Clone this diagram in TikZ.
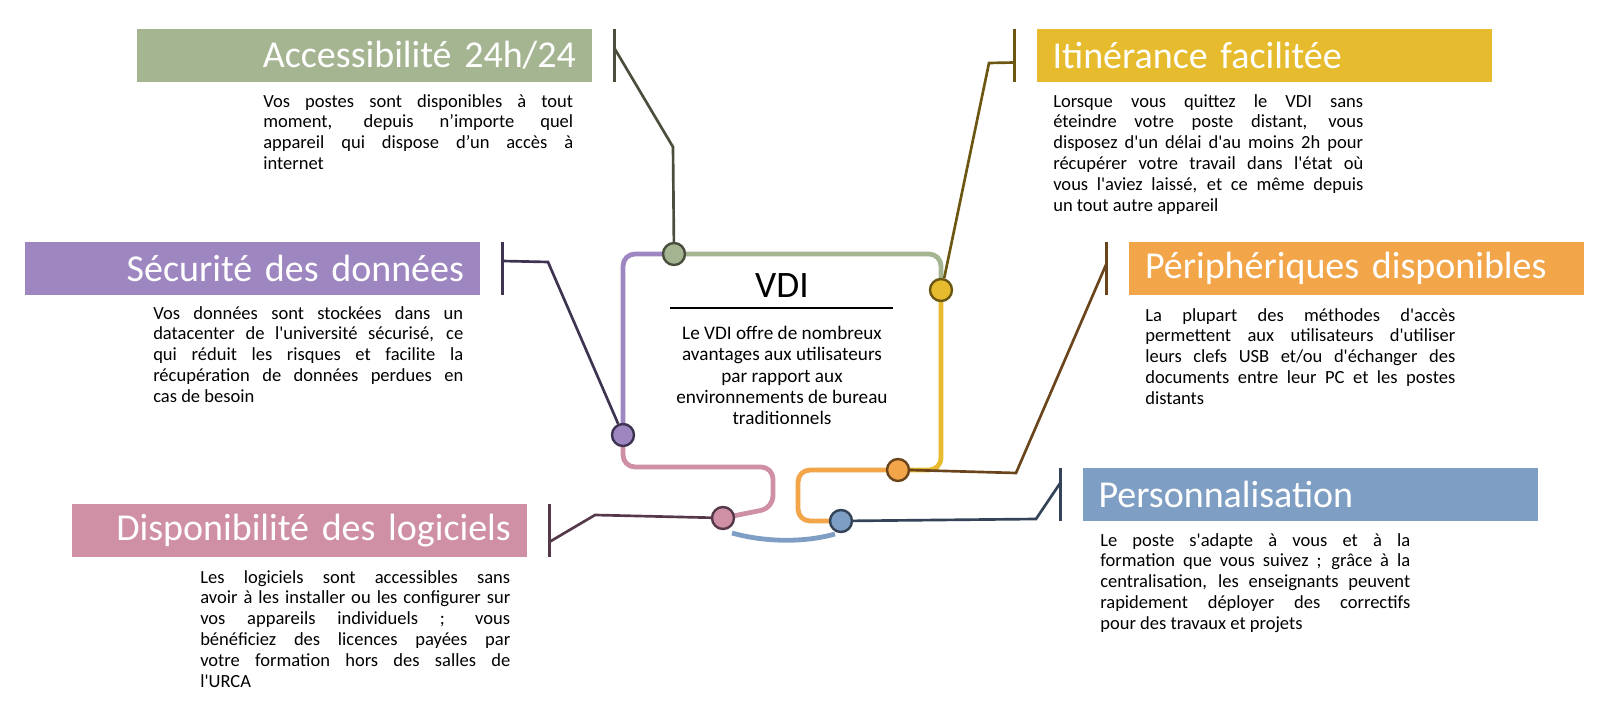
\documentclass[tikz,border=0pt]{standalone}
\usepackage{fontspec}
\setmainfont{Carlito}
\newfontfamily\headfont{Carlito}[WordSpace=0.85]
\usetikzlibrary{calc,backgrounds}
\definecolor{accgreen}{HTML}{A5B592}
\definecolor{itigold}{HTML}{E6BC2E}
\definecolor{secpurple}{HTML}{9E86C0}
\definecolor{perorange}{HTML}{F2A549}
\definecolor{dispink}{HTML}{CF90A5}
\definecolor{persblue}{HTML}{7F9EC4}
\definecolor{accdark}{HTML}{4A4E3C}
\definecolor{itidark}{HTML}{6B5612}
\definecolor{secdark}{HTML}{3E3452}
\definecolor{perdark}{HTML}{6A441A}
\definecolor{disdark}{HTML}{55394A}
\definecolor{persdark}{HTML}{344358}
\newcommand{\ap}{\textquotesingle}
\tikzset{
  headbox/.style={rectangle, inner xsep=12pt, inner ysep=0pt,
    minimum height=39.75pt, text width=317.25pt, text=white,
    font=\headfont\fontsize{28.5}{34}\selectfont},
  desc/.style={inner sep=0pt, text width=232.5pt, align=justify,
    anchor=north west, font=\fontsize{13.9}{15.6}\selectfont},
  dot/.style={circle, line width=1.8pt, minimum size=16.5pt, inner sep=0pt},
  loopline/.style={line width=3.6pt, rounded corners=9pt},
  link/.style={line width=2pt}
}

\begin{document}
\begin{tikzpicture}[x=0.75pt,y=-0.75pt]
\useasboundingbox (0,0) rectangle (1600,716);

% title boxes
\node[headbox, fill=accgreen, align=right] (hAcc) at (364.5,55.5) {Accessibilité 24h/24};
\node[headbox, fill=itigold, align=left] (hIti) at (1264,55.5) {Itinérance facilitée};
\node[headbox, fill=secpurple, align=right] (hSec) at (252.5,268.5) {Sécurité des données};
\node[headbox, fill=perorange, align=left] (hPer) at (1356.5,268.5) {Périphériques disponibles};
\node[headbox, fill=dispink, align=right] (hDis) at (299.5,530.5) {Disponibilité des logiciels};
\node[headbox, fill=persblue, align=left] (hPers) at (1310,494.5) {Personnalisation};

% descriptions
\node[desc] (dAcc) at (263,94)
  {Vos postes sont disponibles à tout\linebreak
   moment, depuis n’importe quel\linebreak
   appareil qui dispose d’un accès à\linebreak
   internet};
\node[desc] (dIti) at (1053,94)
  {Lorsque vous quittez le VDI sans\linebreak
   éteindre votre poste distant, vous\linebreak
   disposez d\ap un délai d\ap au moins 2h pour\linebreak
   récupérer votre travail dans l\ap état où\linebreak
   vous l\ap aviez laissé, et ce même depuis\linebreak
   un tout autre appareil};
\node[desc] (dSec) at (153,306)
  {Vos données sont stockées dans un\linebreak
   datacenter de l\ap université sécurisé, ce\linebreak
   qui réduit les risques et facilite la\linebreak
   récupération de données perdues en\linebreak
   cas de besoin};
\node[desc] (dPer) at (1145,308)
  {La plupart des méthodes d\ap accès\linebreak
   permettent aux utilisateurs d\ap utiliser\linebreak
   leurs clefs USB et/ou d\ap échanger des\linebreak
   documents entre leur PC et les postes\linebreak
   distants};
\node[desc] (dDis) at (200,570)
  {Les logiciels sont accessibles sans\linebreak
   avoir à les installer ou les configurer sur\linebreak
   vos appareils individuels ; vous\linebreak
   bénéficiez des licences payées par\linebreak
   votre formation hors des salles de\linebreak
   l\ap URCA};
\node[desc] (dPers) at (1100,533)
  {Le poste s\ap adapte à vous et à la\linebreak
   formation que vous suivez ; grâce à la\linebreak
   centralisation, les enseignants peuvent\linebreak
   rapidement déployer des correctifs\linebreak
   pour des travaux et projets};

% centre
\node[anchor=base, inner sep=0pt, font=\fontsize{28}{32}\selectfont] (vdi) at (782,298) {VDI};
\draw[line width=0.8pt] (670,308) -- (893,308);
\node[anchor=north, inner sep=0pt, align=center, font=\fontsize{14.4}{16}\selectfont]
  (dVdi) at (782,326)
  {Le VDI offre de nombreux\\ avantages aux utilisateurs\\ par rapport aux\\
   environnements de bureau\\ traditionnels};

% stations
\node[dot, draw=accdark, fill=accgreen] (cAcc) at (674,254) {};
\node[dot, draw=itidark, fill=itigold] (cIti) at (941,290) {};
\node[dot, draw=secdark, fill=secpurple] (cSec) at (623,435) {};
\node[dot, draw=perdark, fill=perorange] (cPer) at (898,470) {};
\node[dot, draw=disdark, fill=dispink] (cDis) at (723,518) {};
\node[dot, draw=persdark, fill=persblue] (cPers) at (841,521) {};

\coordinate (pkA) at (773,467);
\coordinate (pkB) at (773,508);
\coordinate (orA) at (798,495);
\coordinate (blA) at (732,533);
\coordinate (blB) at (835,534);

\begin{scope}[on background layer]
\draw[loopline, secpurple] (cAcc.center) -| (cSec.center);
\draw[loopline, accgreen] (cAcc.center) -| (cIti.center);
\draw[loopline, itigold] (cIti.center) |- (cPer.center);
\draw[loopline, dispink] (cSec.center) |- (pkA) -- (pkB) -- (cDis.center);
\draw[loopline, perorange] (cPer.center) -| (orA) |- (cPers.center);
\draw[loopline, persblue] (blA) .. controls ($(blA)+(32,9)$) and ($(blB)+(-32,9)$) .. (blB);
\end{scope}

% links from boxes
\coordinate (kAcc) at (673,147);
\coordinate (kIti) at (989,63);
\coordinate (kSec) at (548,262);
\coordinate (kPer) at (1016,473);
\coordinate (kDis) at (595,515);
\coordinate (kPers) at (1036,519);

\draw[link, accdark] ($(hAcc.north east)+(22,0)$) -- ($(hAcc.south east)+(22,0)$);
\draw[link, accdark] ($(hAcc.east)+(22,-7.5)$) -- (kAcc) -- (cAcc);
\draw[link, itidark] ($(hIti.north west)+(-22,0)$) -- ($(hIti.south west)+(-22,0)$);
\draw[link, itidark] ($(hIti.west)+(-22,7)$) -- (kIti) -- (cIti.75);
\draw[link, secdark] ($(hSec.north east)+(22,0)$) -- ($(hSec.south east)+(22,0)$);
\draw[link, secdark] ($(hSec.east)+(22,-7.5)$) -- (kSec) -- (cSec);
\draw[link, perdark] ($(hPer.north west)+(-22,0)$) -- ($(hPer.south west)+(-22,0)$);
\draw[link, perdark] ($(hPer.west)+(-22,-5.5)$) -- (kPer) -- (cPer.east);
\draw[link, disdark] ($(hDis.north east)+(22,0)$) -- ($(hDis.south east)+(22,0)$);
\draw[link, disdark] ($(hDis.east)+(22,11.5)$) -- (kDis) -- (cDis);
\draw[link, persdark] ($(hPers.north west)+(-22,0)$) -- ($(hPers.south west)+(-22,0)$);
\draw[link, persdark] ($(hPers.west)+(-22,-11.5)$) -- (kPers) -- (cPers);
\end{tikzpicture}
\end{document}
